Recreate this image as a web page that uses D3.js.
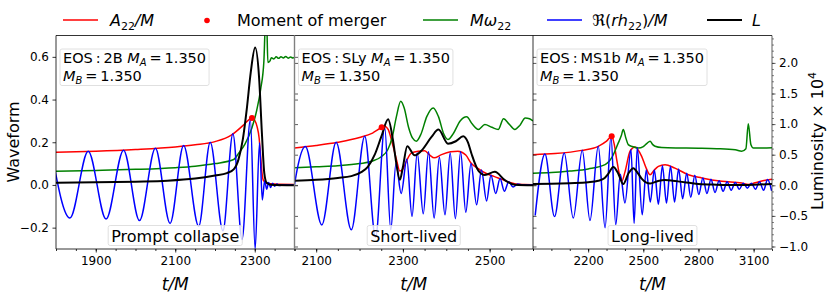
<!DOCTYPE html>
<html>
<head>
<meta charset="utf-8">
<script src="https://cdn.jsdelivr.net/npm/d3@7"></script>
<style>
  body { margin: 0; background: #fff; }
  svg { font-family: "DejaVu Sans", sans-serif; }
</style>
</head>
<body>
<svg id="chart" width="830" height="297"></svg>
<script>
// ---- data: [t/M, value] ----
// waveform quantities are in left-axis units, luminosity in units of 1e4 (right axis)

// panel 1: EOS 2B, prompt collapse
var p1Amp = [[1800,0.153],[1900,0.158],[2000,0.166],[2100,0.178],[2150,0.188],[2200,0.203],[2240,0.232],[2270,0.278],[2285,0.305],[2293,0.314],[2300,0.302],[2306,0.272],[2311,0.22],[2315,0.13],[2318,0.06],[2322,0.02],[2330,0.008],[2350,0.004],[2400,0.002]];
var p1Omega = [[1800,0.064],[1900,0.068],[2000,0.073],[2100,0.081],[2150,0.088],[2200,0.1],[2247,0.119],[2260,0.15],[2275,0.19],[2293,0.268],[2305,0.35],[2315,0.45],[2323,0.58],[2327,0.76],[2330,0.76],[2333,0.574],[2338,0.58],[2342,0.596],[2348,0.59],[2354,0.6],[2360,0.593],[2366,0.6],[2372,0.595],[2378,0.602],[2384,0.594],[2390,0.599],[2396,0.595],[2400,0.597]];
var p1Re = [[1789,0.153],[1835,-0.155],[1881,0.158],[1926,-0.16],[1970,0.163],[2010,-0.167],[2050,0.172],[2087,-0.18],[2121,0.185],[2159,-0.193],[2188,0.2],[2220,-0.215],[2245,0.24],[2268,-0.255],[2289,0.305],[2301,-0.3],[2312,0.198],[2319,-0.07],[2325,0.02],[2330,-0.02],[2335,0.012],[2340,-0.012],[2345,0.008],[2350,-0.006],[2356,0.004],[2362,-0.003],[2370,0],[2400,0]];
var p1Lum = [[1800,0.04],[1900,0.048],[2000,0.06],[2080,0.075],[2150,0.11],[2200,0.16],[2230,0.2],[2247,0.26],[2259,0.42],[2270,0.75],[2280,1.25],[2290,1.85],[2301,2.25],[2311,1.75],[2318,0.85],[2324,0.2],[2330,0.04],[2340,0.01],[2400,0]];
var p1Merger = [2293, 0.314];

// panel 2: EOS SLy, short-lived
var p2Amp = [[2050,0.173],[2100,0.185],[2150,0.2],[2200,0.222],[2230,0.243],[2250,0.268],[2258,0.275],[2266,0.26],[2275,0.2],[2285,0.12],[2293,0.065],[2300,0.075],[2310,0.12],[2320,0.15],[2335,0.158],[2350,0.16],[2362,0.14],[2372,0.127],[2389,0.142],[2410,0.155],[2427,0.158],[2445,0.14],[2458,0.1],[2475,0.075],[2490,0.056],[2510,0.04],[2530,0.025],[2545,0.013],[2560,0.005],[2580,0.002],[2600,0.001]];
var p2Omega = [[2050,0.08],[2100,0.085],[2150,0.09],[2200,0.1],[2230,0.112],[2250,0.132],[2265,0.165],[2275,0.22],[2285,0.32],[2295,0.392],[2303,0.36],[2313,0.27],[2322,0.22],[2331,0.205],[2342,0.24],[2355,0.32],[2370,0.361],[2382,0.32],[2394,0.24],[2404,0.213],[2416,0.24],[2432,0.3],[2447,0.319],[2460,0.285],[2474,0.26],[2489,0.283],[2505,0.27],[2520,0.26],[2532,0.31],[2545,0.285],[2558,0.26],[2570,0.28],[2582,0.314],[2592,0.31],[2600,0.3]];
var p2Re = [[2037,-0.17],[2075,0.18],[2113,-0.187],[2146,0.2],[2181,-0.21],[2212,0.228],[2237,-0.245],[2258,0.27],[2272,-0.21],[2284,0.1],[2296,-0.04],[2309,0.12],[2321,-0.147],[2333,0.15],[2347,-0.135],[2359,0.155],[2372,-0.155],[2384,0.13],[2397,-0.14],[2409,0.15],[2421,-0.158],[2433,0.155],[2445,-0.128],[2457,0.1],[2470,-0.093],[2481,0.07],[2493,-0.075],[2503,0.045],[2514,-0.04],[2524,0.03],[2534,-0.03],[2544,0.015],[2554,-0.01],[2565,0.005],[2575,0],[2600,0]];
var p2Lum = [[2050,0.074],[2100,0.09],[2150,0.12],[2181,0.15],[2205,0.22],[2219,0.3],[2235,0.5],[2250,0.79],[2266,1.08],[2277,0.74],[2285,0.35],[2293,0.09],[2300,0.3],[2310,0.64],[2327,0.49],[2342,0.56],[2366,0.79],[2382,0.91],[2404,0.68],[2422,0.72],[2439,0.8],[2450,0.7],[2458,0.52],[2474,0.24],[2489,0.17],[2512,0.22],[2535,0.085],[2558,0.01],[2600,0]];
var p2Merger = [2251, 0.27];

// panel 3: EOS MS1b, long-lived
var p3Amp = [[1900,0.142],[2020,0.147],[2165,0.162],[2255,0.181],[2300,0.205],[2328,0.228],[2342,0.19],[2355,0.12],[2370,0.05],[2383,0.017],[2400,0.06],[2428,0.158],[2455,0.178],[2491,0.134],[2515,0.08],[2537,0.048],[2560,0.07],[2582,0.087],[2618,0.095],[2672,0.079],[2745,0.048],[2818,0.033],[2927,0.017],[3035,0.009],[3071,0.002],[3108,0.01],[3150,0.02],[3200,0.027]];
var p3Omega = [[1900,0.055],[2000,0.058],[2100,0.065],[2200,0.075],[2292,0.095],[2330,0.13],[2364,0.197],[2380,0.23],[2391,0.26],[2405,0.22],[2418,0.189],[2440,0.18],[2473,0.173],[2500,0.18],[2520,0.195],[2537,0.205],[2550,0.19],[2564,0.181],[2600,0.175],[2700,0.173],[2800,0.172],[2900,0.17],[3000,0.165],[3035,0.158],[3058,0.17],[3071,0.287],[3085,0.19],[3099,0.173],[3150,0.173],[3200,0.174]];
var p3Re = [[1912,-0.143],[1965,0.145],[2017,-0.148],[2070,0.15],[2119,-0.155],[2168,0.162],[2210,-0.166],[2255,0.181],[2292,-0.2],[2324,0.228],[2350,-0.186],[2375,0.05],[2400,-0.085],[2433,0.166],[2450,-0.18],[2467,0.175],[2494,-0.14],[2516,0.07],[2538,-0.08],[2560,0.07],[2582,-0.09],[2604,0.09],[2626,-0.085],[2648,0.088],[2670,-0.08],[2692,0.075],[2714,-0.065],[2736,0.055],[2758,-0.058],[2780,0.045],[2802,-0.045],[2824,0.033],[2846,-0.04],[2868,0.027],[2890,-0.035],[2912,0.02],[2934,-0.03],[2956,0.015],[2978,-0.025],[3000,0.012],[3022,-0.02],[3044,0.008],[3066,-0.015],[3088,0.008],[3110,-0.02],[3132,0.015],[3154,-0.025],[3176,0.025],[3198,-0.028]];
var p3Lum = [[1900,0.02],[2000,0.025],[2100,0.035],[2200,0.05],[2255,0.074],[2290,0.12],[2310,0.19],[2337,0.3],[2364,0.19],[2391,0.02],[2420,0.2],[2446,0.28],[2470,0.2],[2491,0.11],[2537,0.03],[2580,0.07],[2618,0.085],[2660,0.075],[2700,0.06],[2750,0.04],[2800,0.02],[2900,0.01],[3000,0.005],[3100,0.01],[3200,0.02]];
var p3Merger = [2328, 0.228];

// ticks
var leftTicks = [-0.2, 0.0, 0.2, 0.4, 0.6];
var rightTicks = [-1.0, -0.5, 0.0, 0.5, 1.0, 1.5, 2.0];

var PLOT_TOP = 35.5, PLOT_BOTTOM = 249;

var panels = [
    {eos: "2B", label: "Prompt collapse", x0: 56, x1: 294.5, domain: [1800, 2400],
     major: [1900, 2100, 2300], minor: 50,
     amp: p1Amp, omega: p1Omega, re: p1Re, lum: p1Lum, merger: p1Merger},
    {eos: "SLy", label: "Short-lived", x0: 294.5, x1: 533, domain: [2050, 2600],
     major: [2100, 2300, 2500], minor: 50,
     amp: p2Amp, omega: p2Omega, re: p2Re, lum: p2Lum, merger: p2Merger},
    {eos: "MS1b", label: "Long-lived", x0: 533, x1: 772, domain: [1900, 3200],
     major: [2200, 2500, 2800, 3100], minor: 100,
     amp: p3Amp, omega: p3Omega, re: p3Re, lum: p3Lum, merger: p3Merger}
];

var svg = d3.select("#chart");
var minus = function(s) { return s.replace("-", "\u2212"); };

var yL = d3.scaleLinear().domain([-0.3, 0.7]).range([PLOT_BOTTOM, PLOT_TOP]);
var yR = d3.scaleLinear().domain([-1.041, 2.448]).range([PLOT_BOTTOM, PLOT_TOP]);

var defs = svg.append("defs");

panels.forEach(function(p, i) {
    var x = d3.scaleLinear().domain(p.domain).range([p.x0, p.x1]);
    var g = svg.append("g").attr("class", "panel-" + i);

    defs.append("clipPath").attr("id", "clip" + i)
        .append("rect")
        .attr("x", p.x0).attr("y", PLOT_TOP)
        .attr("width", p.x1 - p.x0).attr("height", PLOT_BOTTOM - PLOT_TOP);

    var lineL = d3.line().x(function(d) { return x(d[0]); }).y(function(d) { return yL(d[1]); })
        .curve(d3.curveMonotoneX);
    var lineR = d3.line().x(function(d) { return x(d[0]); }).y(function(d) { return yR(d[1]); })
        .curve(d3.curveMonotoneX);

    var plot = g.append("g").attr("clip-path", "url(#clip" + i + ")");
    plot.append("path").datum(p.amp).attr("d", lineL)
        .attr("fill", "none").attr("stroke", "#ff0000").attr("stroke-width", 1.5);
    plot.append("path").datum(p.omega).attr("d", lineL)
        .attr("fill", "none").attr("stroke", "#008000").attr("stroke-width", 1.5);
    plot.append("path").datum(p.re).attr("d", lineL)
        .attr("fill", "none").attr("stroke", "#0000ff").attr("stroke-width", 1.5);
    plot.append("path").datum(p.lum).attr("d", lineR)
        .attr("fill", "none").attr("stroke", "#000").attr("stroke-width", 2);
    plot.append("circle")
        .attr("cx", x(p.merger[0])).attr("cy", yL(p.merger[1])).attr("r", 3)
        .attr("fill", "#ff0000");

    // x axis, major + minor
    var xMinor = d3.axisBottom(x).tickValues(d3.range(p.domain[0], p.domain[1] + 1, p.minor))
        .tickSize(2).tickFormat("");
    var xMajor = d3.axisBottom(x).tickValues(p.major).tickSize(3.5).tickPadding(3.5)
        .tickFormat(d3.format("d"));
    [xMinor, xMajor].forEach(function(ax) {
        var a = g.append("g").attr("transform", "translate(0," + PLOT_BOTTOM + ")").call(ax);
        a.select(".domain").remove();
        a.selectAll("line").attr("stroke", "#000").attr("stroke-width", 0.8);
        a.selectAll("text").attr("font-size", 12).attr("fill", "#000")
            .attr("font-family", "DejaVu Sans");
    });

    // inner boundaries carry the shared ticks of both y scales
    if (i > 0) {
        [yL, yR].forEach(function(sc, k) {
            var a = g.append("g").attr("transform", "translate(" + p.x0 + ",0)")
                .call(d3.axisRight(sc).tickValues(k === 0 ? leftTicks : rightTicks)
                    .tickSize(3.5).tickFormat(""));
            a.select(".domain").remove();
            a.selectAll("line").attr("stroke", "#333").attr("stroke-width", 0.8);
        });
    }

    // spines
    g.append("line").attr("x1", p.x0).attr("x2", p.x1).attr("y1", PLOT_TOP).attr("y2", PLOT_TOP)
        .attr("stroke", "#000").attr("stroke-width", 0.8);
    g.append("line").attr("x1", p.x0).attr("x2", p.x1).attr("y1", PLOT_BOTTOM).attr("y2", PLOT_BOTTOM)
        .attr("stroke", "#000").attr("stroke-width", 0.8);

    // x label
    var xl = g.append("text").attr("x", (p.x0 + p.x1) / 2).attr("y", 290)
        .attr("text-anchor", "middle").attr("font-size", 17).attr("font-style", "italic");
    xl.text("t/M");

    // EOS box: one text element, two lines
    var eg = g.append("g");
    var tx = p.x0 + 7;
    var et = eg.append("text").attr("x", tx).attr("y", 63).attr("font-size", 14.5);
    et.append("tspan").text("EOS\u2009:\u2009" + p.eos + " ");
    et.append("tspan").attr("font-style", "italic").text("M");
    et.append("tspan").attr("font-style", "italic").attr("font-size", 10).attr("dy", 2.5).text("A");
    et.append("tspan").attr("dy", -2.5).text("\u2009=\u20091.350");
    et.append("tspan").attr("x", tx).attr("dy", 18).attr("font-style", "italic").text("M");
    et.append("tspan").attr("font-style", "italic").attr("font-size", 10).attr("dy", 2.5).text("B");
    et.append("tspan").attr("dy", -2.5).text("\u2009=\u20091.350");
    var b1 = et.node().getBBox();
    eg.insert("rect", "text").attr("x", b1.x - 3).attr("y", b1.y - 1).attr("width", b1.width + 6)
        .attr("height", b1.height + 1).attr("rx", 2)
        .attr("fill", "#fff").attr("fill-opacity", 0.8).attr("stroke", "#d8d8d8").attr("stroke-width", 0.8);

    // regime label box
    var lg = g.append("g");
    var lt = lg.append("text").attr("x", (p.x0 + p.x1) / 2).attr("y", 241.5)
        .attr("text-anchor", "middle").attr("font-size", 16).text(p.label);
    var lb = lt.node().getBBox();
    lg.insert("rect", "text").attr("x", lb.x - 3).attr("y", lb.y - 1).attr("width", lb.width + 6)
        .attr("height", lb.height + 1).attr("rx", 2)
        .attr("fill", "#fff").attr("fill-opacity", 0.8).attr("stroke", "#d8d8d8").attr("stroke-width", 0.8);
});

// outer / inner vertical spines
svg.append("line").attr("x1", 56).attr("x2", 56).attr("y1", PLOT_TOP).attr("y2", PLOT_BOTTOM)
    .attr("stroke", "#000").attr("stroke-width", 0.8);
svg.append("line").attr("x1", 294.5).attr("x2", 294.5).attr("y1", PLOT_TOP).attr("y2", PLOT_BOTTOM)
    .attr("stroke", "#808080").attr("stroke-width", 1.4);
svg.append("line").attr("x1", 533).attr("x2", 533).attr("y1", PLOT_TOP).attr("y2", PLOT_BOTTOM)
    .attr("stroke", "#000").attr("stroke-width", 0.8);
svg.append("line").attr("x1", 772).attr("x2", 772).attr("y1", PLOT_TOP).attr("y2", PLOT_BOTTOM)
    .attr("stroke", "#333").attr("stroke-width", 0.8);

// left axis
var la = svg.append("g").attr("transform", "translate(56,0)")
    .call(d3.axisLeft(yL).tickValues(leftTicks).tickSize(3.5).tickPadding(3.5)
        .tickFormat(function(d) { return minus(d3.format(".1f")(d)); }));
la.select(".domain").remove();
la.selectAll("line").attr("stroke", "#000").attr("stroke-width", 0.8);
la.selectAll("text").attr("font-size", 12).attr("fill", "#000").attr("font-family", "DejaVu Sans");

// right axis (luminosity)
var raMinor = svg.append("g").attr("transform", "translate(772,0)")
    .call(d3.axisRight(yR).tickValues(d3.range(-1.0, 2.45, 0.1)).tickSize(2).tickFormat(""));
raMinor.select(".domain").remove();
raMinor.selectAll("line").attr("stroke", "#333").attr("stroke-width", 0.6);
var ra = svg.append("g").attr("transform", "translate(772,0)")
    .call(d3.axisRight(yR).tickValues(rightTicks).tickSize(3.5).tickPadding(3.5)
        .tickFormat(function(d) { return minus(d3.format(".1f")(d)); }));
ra.select(".domain").remove();
ra.selectAll("line").attr("stroke", "#333").attr("stroke-width", 0.8);
ra.selectAll("text").attr("font-size", 12).attr("fill", "#000").attr("font-family", "DejaVu Sans");

// axis titles
svg.append("text").attr("transform", "translate(19,142) rotate(-90)")
    .attr("text-anchor", "middle").attr("font-size", 16).text("Waveform");
var rl = svg.append("text").attr("transform", "translate(823,141) rotate(-90)")
    .attr("text-anchor", "middle").attr("font-size", 16);
rl.append("tspan").text("Luminosity \u00d7 10");
rl.append("tspan").attr("font-size", 11).attr("dy", -7).text("4");

// legend
var legend = svg.append("g").attr("class", "legend");
function legLine(x0, color, w) {
    legend.append("line").attr("x1", x0).attr("x2", x0 + 35).attr("y1", 20).attr("y2", 20)
        .attr("stroke", color).attr("stroke-width", w);
}
legLine(63, "#ff0000", 1.5);
var t1 = legend.append("text").attr("x", 110).attr("y", 25.5).attr("font-size", 16);
t1.append("tspan").attr("font-style", "italic").text("A");
t1.append("tspan").attr("font-size", 11).attr("dy", 4).text("22");
t1.append("tspan").attr("font-style", "italic").attr("dy", -4).text("/M");

legend.append("circle").attr("cx", 207).attr("cy", 20.5).attr("r", 2.8).attr("fill", "#ff0000");
legend.append("text").attr("x", 237).attr("y", 25.5).attr("font-size", 16).text("Moment of merger");

legLine(423, "#008000", 1.5);
var t3 = legend.append("text").attr("x", 470).attr("y", 25.5).attr("font-size", 16);
t3.append("tspan").attr("font-style", "italic").text("M\u03c9");
t3.append("tspan").attr("font-size", 11).attr("dy", 4).text("22");

legLine(547, "#0000ff", 1.5);
var t4 = legend.append("text").attr("x", 592).attr("y", 25.5).attr("font-size", 16);
t4.append("tspan").text("\u211c(");
t4.append("tspan").attr("font-style", "italic").text("rh");
t4.append("tspan").attr("font-size", 11).attr("dy", 4).text("22");
t4.append("tspan").attr("dy", -4).text(")");
t4.append("tspan").attr("font-style", "italic").text("/M");

legLine(707, "#000", 2);
legend.append("text").attr("x", 752).attr("y", 25.5).attr("font-size", 16)
    .attr("font-style", "italic").text("L");
</script>
</body>
</html>
